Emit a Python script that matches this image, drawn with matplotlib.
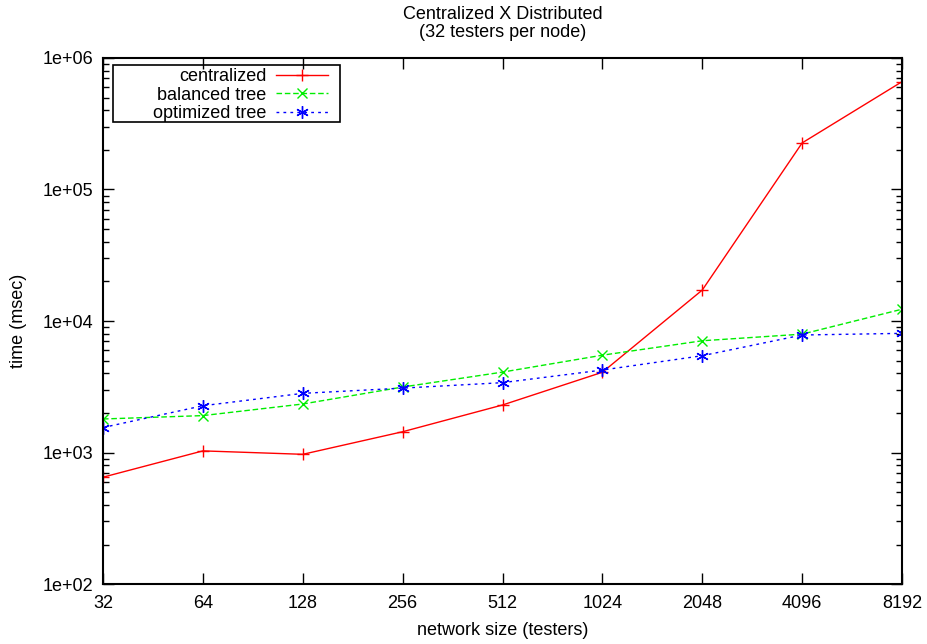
import matplotlib
matplotlib.use("Agg")
import matplotlib.pyplot as plt
from matplotlib.patches import Rectangle
from matplotlib.ticker import FixedLocator, NullFormatter, LogLocator

plt.rcParams['font.family'] = ['Liberation Sans', 'DejaVu Sans']

# --- data ---
sizes = [32, 64, 128, 256, 512, 1024, 2048, 4096, 8192]
size_labels = ["32", "64", "128", "256", "512", "1024", "2048", "4096", "8192"]
centralized = [650, 1030, 970, 1440, 2300, 4080, 17200, 226000, 660000]
balanced = [1800, 1910, 2340, 3150, 4090, 5500, 7080, 7950, 12300]
optimized = [1550, 2270, 2820, 3090, 3400, 4240, 5450, 7830, 8060]

fig = plt.figure(figsize=(9.28, 6.44), dpi=100, facecolor='white')
ax = fig.add_axes([0.111, 0.093, 0.861, 0.817])

ax.plot(sizes, centralized, color='#ff0000', linestyle='-', linewidth=1,
        marker='+', markersize=9, markeredgewidth=1, label='centralized')
ax.plot(sizes, balanced, color='#00ee00', linestyle=(0, (4, 2)), linewidth=1,
        marker='x', markersize=7, markeredgewidth=1, label='balanced tree')
ax.plot(sizes, optimized, color='#0000ff', linestyle=(0, (2, 3)), linewidth=1,
        marker=(6, 2, 0), markersize=9, markeredgewidth=1, label='optimized tree')

ax.set_xscale('log', base=2)
ax.set_yscale('log')
ax.set_xlim(32, 8192)
ax.set_ylim(1e2, 1e6)

ax.xaxis.set_major_locator(FixedLocator(sizes))
ax.set_xticklabels(size_labels)
ax.xaxis.set_minor_locator(FixedLocator([]))

ax.yaxis.set_major_locator(FixedLocator([1e2, 1e3, 1e4, 1e5, 1e6]))
ax.set_yticklabels(["1e+02", "1e+03", "1e+04", "1e+05", "1e+06"])
ax.yaxis.set_minor_locator(LogLocator(base=10, subs=range(2, 10)))
ax.yaxis.set_minor_formatter(NullFormatter())

ax.tick_params(which='both', direction='in', top=True, right=True,
               colors='black', labelsize=13)
ax.tick_params(which='major', length=8, width=1)
ax.tick_params(which='minor', length=4, width=1)
ax.tick_params(axis='x', pad=8)
ax.tick_params(axis='y', pad=7)

for s in ax.spines.values():
    s.set_linewidth(1.5)
    s.set_color('black')

ax.set_xlabel("network size (testers)", fontsize=13, labelpad=7)
ax.set_ylabel("time (msec)", fontsize=13, labelpad=11)
ax.set_title("Centralized X Distributed\n(32 testers per node)", fontsize=13,
             pad=15, linespacing=1.1)

# legend box drawn by hand, gnuplot style (wide left margin)
ax.add_patch(Rectangle((0.0125, 0.878), 0.284, 0.109, transform=ax.transAxes,
                       fill=False, edgecolor='black', linewidth=1.2, zorder=5))
leg = ax.legend(loc='upper right', bbox_to_anchor=(0.2816, 0.981),
                markerfirst=False, fontsize=13, frameon=False,
                borderpad=0.0, labelspacing=0.09,
                handlelength=2.9, handletextpad=0.5, borderaxespad=0.0)
for t in leg.get_texts():
    t.set_ha('right')
leg._legend_box.align = 'right'

fig.savefig("out.png", dpi=100, facecolor='white')
